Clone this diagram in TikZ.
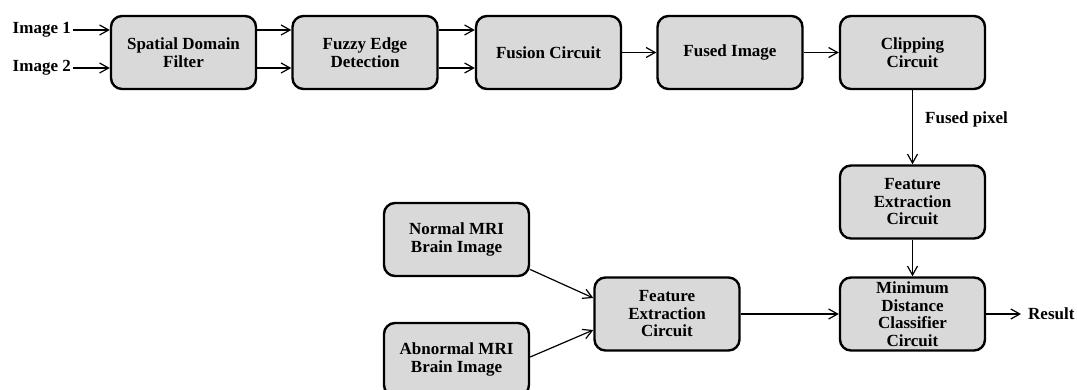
\documentclass[tikz,border=0pt]{standalone}
\usepackage{fontspec}
\setmainfont{Liberation Serif}
\usetikzlibrary{arrows.meta}
\begin{document}
\begin{tikzpicture}[x=1pt,y=-1pt,
  box/.style={draw=black,line width=2.4pt,rounded corners=11pt,fill=boxgray,
    minimum width=145pt,minimum height=73pt,align=center,
    font=\fontsize{17}{17.5}\selectfont\bfseries,inner sep=2pt},
  lbl/.style={font=\fontsize{17}{17.5}\selectfont\bfseries,inner sep=0pt},
  arr/.style={line width=1.2pt,-{Straight Barb[length=9pt,width=10pt,line width=1.2pt]}}]
\definecolor{boxgray}{HTML}{D9D9D9}
\useasboundingbox (0,0) rectangle (1077,390);
\node[box] (sp) at (183.5,52.5) {Spatial Domain\\Filter};
\node[box] (fz) at (365,52.5) {Fuzzy Edge\\Detection};
\node[box] (fu) at (548.5,52.5) {Fusion Circuit};
\node[box] (fi) at (730,52.5) {Fused Image};
\node[box] (cl) at (912.5,52.5) {Clipping\\Circuit};
\node[box] (fer) at (912.5,202) {Feature\\Extraction\\Circuit};
\node[box] (md) at (912.5,314) {Minimum\\Distance\\Classifier\\Circuit};
\node[box] (fem) at (667,314) {Feature\\Extraction\\Circuit};
\node[box] (nm) at (456.5,239.5) {Normal MRI\\Brain Image};
\node[box] (ab) at (456.5,359.5) {Abnormal MRI\\Brain Image};
\node[lbl,anchor=east] (i1) at (71,30) {Image 1};
\node[lbl,anchor=east] (i2) at (71,68) {Image 2};
\node[lbl,anchor=west] (fp) at (925,119) {Fused pixel};
\node[lbl,anchor=west] (res) at (1028,314) {Result};
\draw[arr] ([xshift=2pt]i1.east) -- (i1.east -| sp.west);
\draw[arr] ([xshift=2pt]i2.east) -- (i2.east -| sp.west);
\draw[arr] ([yshift=22.5pt]sp.east) -- ([yshift=22.5pt]fz.west);
\draw[arr] ([yshift=-15.5pt]sp.east) -- ([yshift=-15.5pt]fz.west);
\draw[arr] ([yshift=22.5pt]fz.east) -- ([yshift=22.5pt]fu.west);
\draw[arr] ([yshift=-15.5pt]fz.east) -- ([yshift=-15.5pt]fu.west);
\draw[arr] (fu) -- (fi);
\draw[arr] (fi) -- (cl);
\draw[arr] (cl) -- (fer);
\draw[arr] (fer) -- (md);
\draw[arr] (fem) -- (md);
\draw[arr] (md.east) -- ([xshift=-7pt]res.west);
\draw[arr] ([yshift=-30pt]nm.east) -- ([yshift=16pt]fem.west);
\draw[arr] ([yshift=2.5pt]ab.east) -- ([yshift=-16pt]fem.west);
\end{tikzpicture}
\end{document}
